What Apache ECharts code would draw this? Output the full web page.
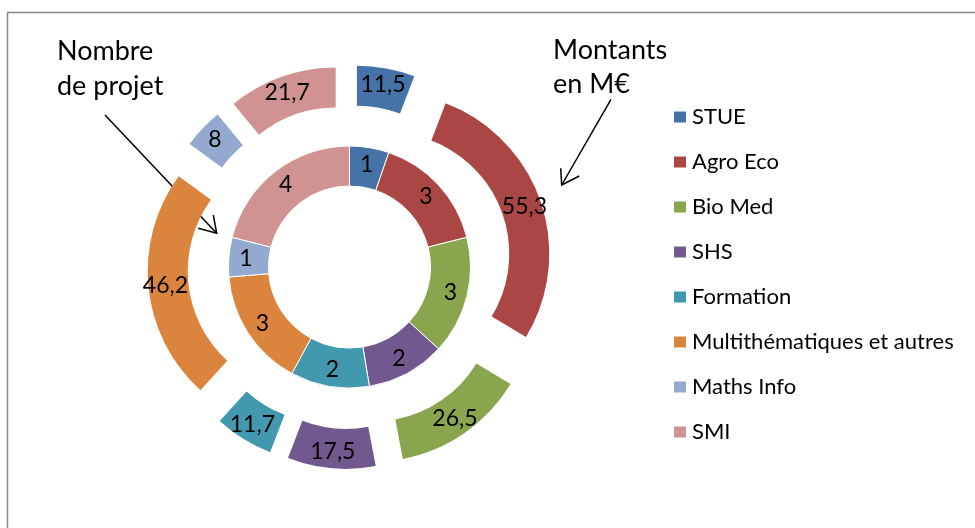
<!DOCTYPE html>
<html>
<head>
<meta charset="utf-8">
<script src="https://cdn.jsdelivr.net/npm/echarts@6/dist/echarts.min.js"></script>
<style>
  html, body { margin: 0; padding: 0; background: #fff; }
  #chart { width: 975px; height: 528px; }
</style>
</head>
<body>
<div id="chart"></div>
<script>
// categories and values
const categories = ['STUE', 'Agro Eco', 'Bio Med', 'SHS', 'Formation', 'Multithématiques et autres', 'Maths Info', 'SMI']
const nbProjets = [1, 3, 3, 2, 2, 3, 1, 4]
const montants = [11.5, 55.3, 26.5, 17.5, 11.7, 46.2, 8, 21.7]
const colors = ['#4572A7', '#AA4643', '#89A54E', '#71588F', '#4198AF', '#DB843D', '#93A9CF', '#D19392']

const font = 'Lato'
const center = [349.5, 267]

let chart = echarts.init(document.getElementById('chart'))

// petite fonction pour la virgule décimale
const virgule = (p) => String(p.value).replace('.', ',')

let option = {
    animation: false,
    color: colors,
    legend: {
        orient: 'vertical',
        left: 672,
        top: 106,
        padding: 0,
        itemWidth: 14,
        itemHeight: 13,
        itemGap: 23,
        icon: 'rect',
        selectedMode: false,
        data: categories,
        textStyle: { fontFamily: font, fontSize: 22, color: '#000' }
    },
    series: [
        {
            // anneau intérieur : nombre de projets
            type: 'pie',
            center,
            radius: [81, 121],
            startAngle: 90,
            clockwise: true,
            avoidLabelOverlap: false,
            emphasis: { disabled: true },
            itemStyle: { borderColor: '#fff', borderWidth: 1 },
            label: { position: 'inside', formatter: virgule, fontFamily: font, fontSize: 23, color: '#000' },
            labelLine: { show: false },
            data: categories.map((name, i) => ({ name, value: nbProjets[i] }))
        },
        {
            // anneau extérieur éclaté : montants
            type: 'pie',
            center,
            radius: [121, 161],
            startAngle: 90,
            clockwise: true,
            avoidLabelOverlap: false,
            selectedMode: 'multiple',
            selectedOffset: 41,
            emphasis: { disabled: true },
            label: { position: 'inside', formatter: virgule, fontFamily: font, fontSize: 23, color: '#000' },
            labelLine: { show: false },
            data: categories.map((name, i) => ({ name, value: montants[i], selected: true }))
        }
    ],
    graphic: [
        // cadre
        { type: 'rect', shape: { x: 7.5, y: 12.5, width: 1100, height: 700 }, style: { fill: 'none', stroke: '#888', lineWidth: 1.5 }, silent: true },
        // annotations
        { type: 'text', x: 57, y: 34, style: { text: 'Nombre\nde projet', font: '27px Lato', lineHeight: 35, fill: '#000' } },
        { type: 'text', x: 553, y: 33, style: { text: 'Montants\nen M€', font: '27px Lato', lineHeight: 34, fill: '#000' } },
        { type: 'polyline', shape: { points: [[105, 115], [216.7, 233.3]] }, style: { stroke: '#000', lineWidth: 1.5 } },
        { type: 'polyline', shape: { points: [[198.3, 228.3], [216.7, 233.3], [213.3, 215]] }, style: { stroke: '#000', lineWidth: 1.5, fill: 'none' } },
        { type: 'polyline', shape: { points: [[611, 99.3], [561.7, 185]] }, style: { stroke: '#000', lineWidth: 1.5 } },
        { type: 'polyline', shape: { points: [[579.3, 176], [561.7, 185], [560.7, 168.3]] }, style: { stroke: '#000', lineWidth: 1.5, fill: 'none' } }
    ]
}
chart.setOption(option)
</script>
</body>
</html>
